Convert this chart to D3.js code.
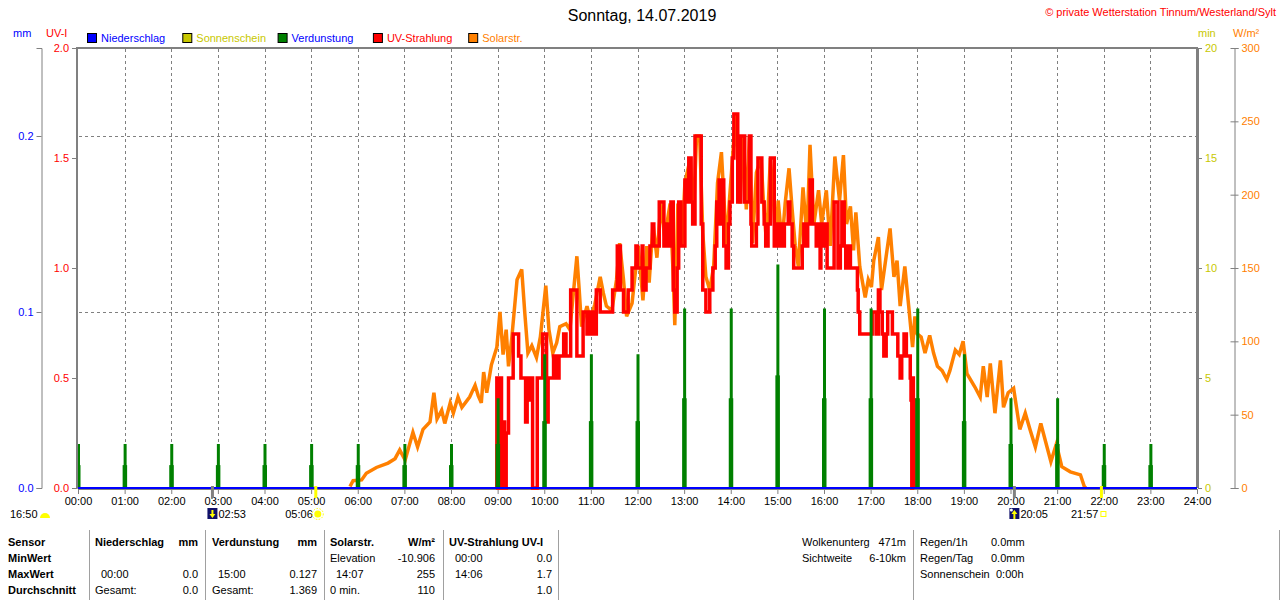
<!DOCTYPE html>
<html>
<head>
<meta charset="utf-8">
<script src="https://cdn.jsdelivr.net/npm/d3@7"></script>
<style>
body { margin: 0; background: #fff; }
svg { font-family: "Liberation Sans", Arial, sans-serif; font-size: 11px; }
</style>
</head>
<body>
<script>
/* Tick labels and axis values */
var xTickLabels = ["00:00","01:00","02:00","03:00","04:00","05:00","06:00","07:00","08:00",
  "09:00","10:00","11:00","12:00","13:00","14:00","15:00","16:00","17:00","18:00","19:00",
  "20:00","21:00","22:00","23:00","24:00"];
var uvTicks = [0, 0.5, 1.0, 1.5, 2.0];
var mmTicks = [0, 0.1, 0.2];
var minTicks = [0, 5, 10, 15, 20];
var solarTicks = [0, 50, 100, 150, 200, 250, 300];
var legendNames = ["Niederschlag", "Sonnenschein", "Verdunstung", "UV-Strahlung", "Solarstr."];

/* Verdunstung (mm) per hour, and the half-hour part */
var evapHours = [0,1,2,3,4,5,6,7,8,9,10,11,12,13,14,15,16,17,18,19,20,21,22,23];
var evapHour = [0.025,0.025,0.025,0.025,0.025,0.025,0.025,0.025,0.025,0.051,0.076,0.076,
  0.076,0.102,0.102,0.127,0.102,0.102,0.102,0.076,0.051,0.051,0.025,0.025];
var evapHalf = [0.013,0.013,0.013,0.013,0.013,0.013,0.013,0.013,0.013,0.025,0.038,0.038,
  0.038,0.051,0.051,0.064,0.051,0.051,0.051,0.038,0.025,0.025,0.013,0.013];

/* Niederschlag and Sonnenschein: nothing all day */
var precipTime = [0, 1440];
var precipValue = [0, 0];
var sunTime = [0, 1440];
var sunValue = [0, 0];

/* Solarstrahlung W/m2, time in minutes after midnight */
var solarTime = [350,354,365,371,384,399,408,414,421,431,437,444,453,458,462,468,472,479,483,489,
  494,504,511,515,519,522,526,532,539,543,547,551,554,558,565,571,575,579,584,590,
  595,602,606,611,616,620,628,633,642,645,648,655,659,665,672,676,680,687,693,697,
  702,706,713,718,721,727,732,735,740,745,750,755,762,766,768,772,777,781,788,792,
  796,800,804,808,813,818,823,828,831,835,838,843,846,850,852,856,860,864,868,873,
  879,882,886,891,895,898,901,906,910,915,919,923,927,933,938,942,947,953,957,963,
  968,974,980,985,989,994,998,1001,1006,1013,1017,1021,1024,1030,1034,1040,1045,1050,1054,1058,
  1064,1069,1074,1077,1080,1085,1090,1096,1101,1106,1112,1118,1122,1129,1134,1139,1144,1154,1161,1165,
  1170,1174,1180,1187,1191,1197,1204,1212,1219,1225,1232,1239,1247,1252,1259,1266,1277,1290,1295,1297];
var solarValue = [1,5,5.5,10,14,17,20,26,19,38,28,40,45,65,47,53,44,58,51,62,
  55,62,70,63,58,79,65,84,96,120,91,108,83,101,142,149,119,92,97,89,
  103,138,108,92,99,110,112,108,158,135,110,124,115,125,144,133,124,121,142,167,
  142,117,126,151,165,128,165,140,180,157,194,171,194,144,111,194,165,208,225,185,
  240,240,174,144,135,151,208,229,199,165,194,230,254,212,194,240,190,240,167,215,
  225,196,167,225,196,167,196,167,194,218,190,165,151,205,171,234,180,203,180,203,
  165,226,196,227,180,192,162,188,151,130,142,137,155,171,135,158,177,144,155,124,
  151,124,96,117,105,103,92,104,92,83,80,74,80,94,91,100,78,69,62,83,
  62,85,51,87,55,65,68,40,51,40,28,44,28,18,30,14.5,11,9,1,0];

/* UV-Index, time in minutes after midnight */
var uvTime = [538,539,541,543,545,547,549,551,554,560,567,570,576,578,580,582,585,591,598,603,
  605,612,616,619,625,628,634,642,650,655,659,663,667,672,688,694,698,702,708,713,
  718,720,726,727,731,736,739,741,748,754,758,761,763,766,768,771,773,776,781,784,
  786,789,791,794,802,804,808,813,817,820,822,825,826,829,831,834,837,839,842,844,
  849,853,858,864,866,867,873,875,880,883,885,888,891,896,898,901,903,906,909,914,
  916,919,921,932,934,937,939,942,945,950,952,955,956,959,961,964,973,978,981,983,
  986,988,991,994,1001,1003,1004,1006,1022,1027,1030,1032,1035,1037,1040,1042,1048,1055,1058,1060,
  1063,1066,1071,1072,1073,1074,1075,1076];
var uvValue = [0,0.5,0,0.5,0,0.3,0,0.25,0.5,0.7,0.6,0.5,0.3,0.5,0.4,0.5,0,0.5,0.7,0.3,
  0.5,0.6,0.5,0.6,0.7,0.6,0.9,0.6,0.8,0.7,0.8,0.7,0.9,0.8,0.9,1.1,0.9,0.8,0.9,1.0,
  1.1,1.0,1.1,0.9,1.0,1.1,1.2,1.1,1.3,1.1,1.2,1.1,1.3,0.9,0.8,1.0,1.3,1.1,1.4,1.3,
  1.5,1.3,1.2,1.6,1.2,0.9,0.8,0.9,1.0,1.1,1.3,1.4,1.2,1.4,1.1,1.0,1.2,1.3,1.5,1.7,
  1.3,1.6,1.3,1.6,1.2,1.1,1.2,1.5,1.3,1.2,1.1,1.2,1.5,1.1,1.2,1.1,1.2,1.1,1.2,1.3,
  1.2,1.1,1.0,1.1,1.2,1.1,1.2,1.4,1.2,1.1,1.2,1.0,1.2,1.1,1.2,1.0,1.3,1.0,1.1,1.3,
  1.1,1.0,1.1,1.0,1.0,0.9,0.8,0.7,0.8,0.7,0.9,0.8,0.7,0.6,0.7,0.8,0.7,0.6,0.5,0.6,
  0.7,0.6,0.5,0.4,0,0.5,0.4,0];

/* Sun and moon times shown below the axis */
var astroTime = [173, 306, 1205, 1317];
var astroLabel = ["02:53", "05:06", "20:05", "21:57"];

var COL = {
  blue: "#0000ff", olive: "#c8c800", green: "#008000", red: "#ff0000",
  orange: "#ff8000", grey: "#808080", navy: "#10106a", yellow: "#ffff00"
};
var legendFill = [COL.blue, COL.olive, COL.green, COL.red, COL.orange];
var legendText = [COL.blue, COL.olive, COL.blue, COL.red, COL.orange];

var svg = d3.select("body").append("svg")
    .attr("width", 1280)
    .attr("height", 600);

var x = d3.scaleLinear().domain([0, 1440]).range([78, 1197]);
var yUV = d3.scaleLinear().domain([0, 2]).range([488, 48]);
var yMM = d3.scaleLinear().domain([0, 0.25]).range([488, 48]);
var yMin = d3.scaleLinear().domain([0, 20]).range([488, 48]);
var ySol = d3.scaleLinear().domain([0, 300]).range([488, 48]);

/* Titles */
svg.append("text").attr("x", 642).attr("y", 21).attr("text-anchor", "middle")
    .attr("font-size", 16).text("Sonntag, 14.07.2019");
svg.append("text").attr("x", 1276).attr("y", 16).attr("text-anchor", "end")
    .attr("fill", COL.red).text("\u00a9 private Wetterstation Tinnum/Westerland/Sylt");

svg.append("text").attr("x", 13).attr("y", 37).attr("fill", COL.blue).text("mm");
svg.append("text").attr("x", 46).attr("y", 37).attr("fill", COL.red).text("UV-I");
svg.append("text").attr("x", 1198).attr("y", 37).attr("fill", COL.olive).text("min");
svg.append("text").attr("x", 1233).attr("y", 37).attr("fill", COL.orange).text("W/m\u00b2");

/* Legend */
var legend = svg.selectAll(".legend").data(legendNames).enter().append("g")
    .attr("class", "legend")
    .attr("transform", function(d, i) { return "translate(" + (87 + i * 95.3) + ",33)"; });
legend.append("rect").attr("x", 0.5).attr("y", 0.5).attr("width", 9).attr("height", 9)
    .attr("fill", function(d, i) { return legendFill[i]; }).attr("stroke", "#000");
legend.append("text").attr("x", 14).attr("y", 9)
    .attr("fill", function(d, i) { return legendText[i]; }).text(function(d) { return d; });

/* Grid */
svg.selectAll(".vgrid").data(d3.range(1, 24)).enter().append("line")
    .attr("x1", function(d) { return Math.round(x(d * 60)) + 0.5; })
    .attr("x2", function(d) { return Math.round(x(d * 60)) + 0.5; })
    .attr("y1", 49).attr("y2", 488)
    .attr("stroke", COL.grey).attr("stroke-dasharray", "3,3");
svg.selectAll(".hgrid").data([0.1, 0.2]).enter().append("line")
    .attr("x1", 79).attr("x2", 1197)
    .attr("y1", function(d) { return Math.round(yMM(d)) + 0.5; })
    .attr("y2", function(d) { return Math.round(yMM(d)) + 0.5; })
    .attr("stroke", COL.grey).attr("stroke-dasharray", "3,3");

/* Axes */
function styleAxis(g, color) {
  g.attr("font-family", null).attr("font-size", 11);
  g.selectAll(".domain").attr("stroke", COL.grey);
  g.selectAll(".tick line").attr("stroke", COL.grey);
  g.selectAll("text").attr("fill", color);
}

svg.append("g").attr("transform", "translate(0,489)")
    .call(d3.axisBottom(x).tickValues(d3.range(0, 1441, 60)).tickSizeOuter(0).tickSize(5)
      .tickFormat(function(d, i) { return xTickLabels[i]; }))
    .call(styleAxis, "#000");

svg.append("g").attr("transform", "translate(77,0)")
    .call(d3.axisLeft(yUV).tickValues(uvTicks).tickSizeOuter(0).tickSize(5).tickFormat(d3.format(".1f")))
    .call(styleAxis, COL.red);

svg.append("g").attr("transform", "translate(41.5,0)")
    .call(d3.axisLeft(yMM).tickValues(mmTicks).tickSizeOuter(0).tickSize(5).tickFormat(d3.format(".1f")))
    .call(styleAxis, COL.blue);

svg.append("g").attr("transform", "translate(1198,0)")
    .call(d3.axisRight(yMin).tickValues(minTicks).tickSizeOuter(0).tickSize(4))
    .call(styleAxis, COL.olive);

svg.append("g").attr("transform", "translate(1234.5,0)")
    .call(d3.axisRight(ySol).tickValues(solarTicks).tickSizeOuter(0).tickSize(4))
    .call(styleAxis, COL.orange)
    .selectAll(".tick line").attr("x1", -4);

/* Solarstrahlung */
var solarData = solarTime.map(function(t, i) { return [t, solarValue[i]]; });
svg.append("path").datum(solarData)
    .attr("fill", "none").attr("stroke", COL.orange).attr("stroke-width", 3.5)
    .attr("d", d3.line().x(function(d) { return x(d[0]); }).y(function(d) { return ySol(d[1]); }));

/* UV-Strahlung */
var uvData = uvTime.map(function(t, i) { return [t, uvValue[i]]; });
svg.append("path").datum(uvData)
    .attr("fill", "none").attr("stroke", COL.red).attr("stroke-width", 3.5)
    .attr("d", d3.line().curve(d3.curveStepAfter)
      .x(function(d) { return x(d[0]); }).y(function(d) { return yUV(d[1]); }));

/* Verdunstung bars */
svg.selectAll(".evhalf").data(evapHours).enter().append("rect")
    .attr("x", function(d) { return x(d * 60) - 2; })
    .attr("width", 4.5)
    .attr("y", function(d, i) { return yMM(evapHalf[i]); })
    .attr("height", function(d, i) { return 488 - yMM(evapHalf[i]); })
    .attr("fill", COL.green);
svg.selectAll(".evhour").data(evapHours).enter().append("rect")
    .attr("x", function(d) { return x(d * 60) - 1; })
    .attr("width", 3)
    .attr("y", function(d, i) { return yMM(evapHour[i]); })
    .attr("height", function(d, i) { return 488 - yMM(evapHour[i]); })
    .attr("fill", COL.green);

/* Frame */
svg.append("path").attr("d", "M77,488V48H1197V488")
    .attr("fill", "none").attr("stroke", COL.grey).attr("stroke-width", 2);

/* Sonnenschein and Niederschlag base lines */
svg.append("path").datum(sunTime.map(function(t, i) { return [t, sunValue[i]]; }))
    .attr("fill", "none").attr("stroke", COL.olive).attr("stroke-width", 2)
    .attr("d", d3.line().x(function(d) { return x(d[0]); }).y(function(d) { return yMin(d[1]); }));
svg.append("path").datum(precipTime.map(function(t, i) { return [t, precipValue[i]]; }))
    .attr("fill", "none").attr("stroke", COL.blue).attr("stroke-width", 2)
    .attr("d", d3.line().x(function(d) { return x(d[0]); }).y(function(d) { return yMM(d[1]); }));

/* Sun and moon markers */
var markColor = [COL.grey, COL.yellow, COL.grey, COL.yellow];
svg.selectAll(".astro").data(astroTime).enter().append("rect")
    .attr("x", function(d) { return x(d) - 1.5; })
    .attr("y", 486).attr("width", 3).attr("height", 12)
    .attr("fill", function(d, i) { return markColor[i]; });

svg.append("text").attr("x", 10).attr("y", 518).text("16:50");
svg.append("path").attr("d", "M40,518a5,5 0 0,1 10,0z").attr("fill", COL.yellow);

astroTime.forEach(function(t, i) {
  var cx = x(t);
  if (i === 0 || i === 2) {
    svg.append("rect").attr("x", cx - 5).attr("y", 508).attr("width", 10).attr("height", 11)
        .attr("fill", COL.navy);
    svg.append("path")
        .attr("d", i === 0 ? "M" + (cx - 1) + ",510v4h-2l3,4l3,-4h-2v-4z" : "M" + (cx) + ",510l3,4h-2v5h-2v-5h-2z")
        .attr("fill", COL.yellow);
    if (i === 2) svg.append("circle").attr("cx", cx - 3).attr("cy", 510).attr("r", 1.5).attr("fill", "#fff");
    svg.append("text").attr("x", cx + 6).attr("y", 518).text(astroLabel[i]);
  } else {
    svg.append("text").attr("x", cx - 3).attr("y", 518).attr("text-anchor", "end").text(astroLabel[i]);
    if (i === 1) {
      svg.append("circle").attr("cx", cx + 2).attr("cy", 514).attr("r", 3.5).attr("fill", COL.yellow);
      svg.append("circle").attr("cx", cx + 2).attr("cy", 514).attr("r", 5.5)
          .attr("fill", "none").attr("stroke", COL.yellow).attr("stroke-dasharray", "1.5,1.5");
    } else {
      svg.append("rect").attr("x", cx - 0.5).attr("y", 511.5).attr("width", 5).attr("height", 5)
          .attr("fill", "none").attr("stroke", COL.yellow);
    }
  }
});

/* Summary table */
var tbl = svg.append("g");
[89, 205, 324, 443, 558, 913, 1279].forEach(function(sx) {
  tbl.append("line").attr("x1", sx + 0.5).attr("x2", sx + 0.5).attr("y1", 530).attr("y2", 600)
      .attr("stroke", "#a0a0a0");
});
function cell(tx, ty, s, anchor, bold) {
  tbl.append("text").attr("x", tx).attr("y", ty).attr("text-anchor", anchor || "start")
      .attr("font-weight", bold ? "bold" : null).text(s);
}
var rowY = [546, 562, 578, 594];
["Sensor", "MinWert", "MaxWert", "Durchschnitt"].forEach(function(s, i) { cell(8, rowY[i], s, "start", true); });
cell(95, rowY[0], "Niederschlag", "start", true); cell(198, rowY[0], "mm", "end", true);
cell(101, rowY[2], "00:00"); cell(198, rowY[2], "0.0", "end");
cell(95, rowY[3], "Gesamt:"); cell(198, rowY[3], "0.0", "end");
cell(212, rowY[0], "Verdunstung", "start", true); cell(317, rowY[0], "mm", "end", true);
cell(218, rowY[2], "15:00"); cell(317, rowY[2], "0.127", "end");
cell(212, rowY[3], "Gesamt:"); cell(317, rowY[3], "1.369", "end");
cell(330, rowY[0], "Solarstr.", "start", true); cell(435, rowY[0], "W/m\u00b2", "end", true);
cell(330, rowY[1], "Elevation"); cell(435, rowY[1], "-10.906", "end");
cell(336, rowY[2], "14:07"); cell(435, rowY[2], "255", "end");
cell(330, rowY[3], "0 min."); cell(435, rowY[3], "110", "end");
cell(449, rowY[0], "UV-Strahlung UV-I", "start", true);
cell(455, rowY[1], "00:00"); cell(552, rowY[1], "0.0", "end");
cell(455, rowY[2], "14:06"); cell(552, rowY[2], "1.7", "end");
cell(552, rowY[3], "1.0", "end");
cell(802, rowY[0], "Wolkenunterg"); cell(906, rowY[0], "471m", "end");
cell(802, rowY[1], "Sichtweite"); cell(906, rowY[1], "6-10km", "end");
cell(920, rowY[0], "Regen/1h"); cell(991, rowY[0], "0.0mm");
cell(920, rowY[1], "Regen/Tag"); cell(991, rowY[1], "0.0mm");
cell(920, rowY[2], "Sonnenschein"); cell(996, rowY[2], "0:00h");
</script>
</body>
</html>
